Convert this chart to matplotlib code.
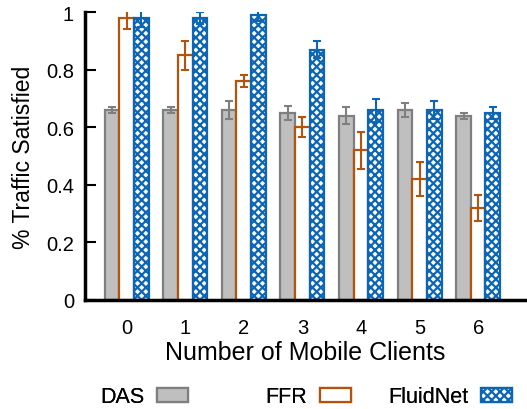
import numpy as np
import matplotlib
matplotlib.use("Agg")
import matplotlib.pyplot as plt

plt.rcParams['font.family'] = ['Liberation Sans', 'DejaVu Sans']
plt.rcParams['hatch.linewidth'] = 1.6

clients = [0, 1, 2, 3, 4, 5, 6]
das = [0.66, 0.66, 0.66, 0.65, 0.64, 0.66, 0.64]
das_err = [0.01, 0.01, 0.03, 0.025, 0.03, 0.025, 0.01]
ffr = [0.98, 0.85, 0.76, 0.60, 0.52, 0.42, 0.32]
ffr_err = [0.04, 0.05, 0.02, 0.035, 0.065, 0.06, 0.045]
fluidnet = [0.98, 0.98, 0.99, 0.87, 0.66, 0.66, 0.65]
fluidnet_err = [0.03, 0.02, 0.02, 0.03, 0.04, 0.03, 0.02]

c_das_fill = '#bfbfbf'
c_das_edge = '#7f7f7f'
c_ffr = '#b5530d'
c_fn = '#0d66b5'

fig = plt.figure(figsize=(5.27, 4.10), dpi=100)
ax = fig.add_axes([0.1613, 0.2659, 0.835, 0.702])

x = np.arange(len(clients))
w = 0.25
lw = 1.6
ekw = dict(elinewidth=1.5, capthick=1.5)

b1 = ax.bar(x - w, das, w, color=c_das_fill, edgecolor=c_das_edge, linewidth=lw, label='DAS',
            yerr=das_err, capsize=3, error_kw=dict(ecolor=c_das_edge, **ekw))
b2 = ax.bar(x, ffr, w, color='white', edgecolor=c_ffr, linewidth=lw, label='FFR',
            yerr=ffr_err, capsize=3, error_kw=dict(ecolor=c_ffr, **ekw))
b3 = ax.bar(x + w, fluidnet, w, color='white', edgecolor=c_fn, linewidth=lw, hatch='xxxx',
            label='FluidNet', yerr=fluidnet_err, capsize=3, error_kw=dict(ecolor=c_fn, **ekw))

ax.set_xlim(-0.71, 6.8)
ax.set_ylim(0, 1)
ax.set_xticks(x)
ax.set_xticklabels([str(c) for c in clients])
ax.set_yticks([0, 0.2, 0.4, 0.6, 0.8, 1])
ax.set_yticklabels(['0', '0.2', '0.4', '0.6', '0.8', '1'])
ax.tick_params(axis='x', length=0, labelsize=14.5, pad=13)
ax.tick_params(axis='y', direction='in', length=8, width=1.5, labelsize=14.5, pad=8)

for s in ['top', 'right']:
    ax.spines[s].set_visible(False)
for s in ['left', 'bottom']:
    ax.spines[s].set_linewidth(2.5)

ax.set_xlabel('Number of Mobile Clients', fontsize=18, labelpad=2)
ax.set_ylabel('% Traffic Satisfied', fontsize=16.5, labelpad=8)

# one legend per series so each entry sits at its own spot
handles = [b1, b2, b3]
names = ['DAS', 'FFR', 'FluidNet']
left_px = [100, 265, 388]
for h, n, lx in zip(handles, names, left_px):
    leg = fig.legend([h], [n], loc='center left', bbox_to_anchor=(lx / 527, 12 / 410),
                     frameon=False, markerfirst=False, fontsize=15.5, handlelength=1.45,
                     handleheight=0.6, handletextpad=0.6, borderpad=0, borderaxespad=0)
    fig.add_artist(leg)

fig.savefig('out.png', dpi=100)
